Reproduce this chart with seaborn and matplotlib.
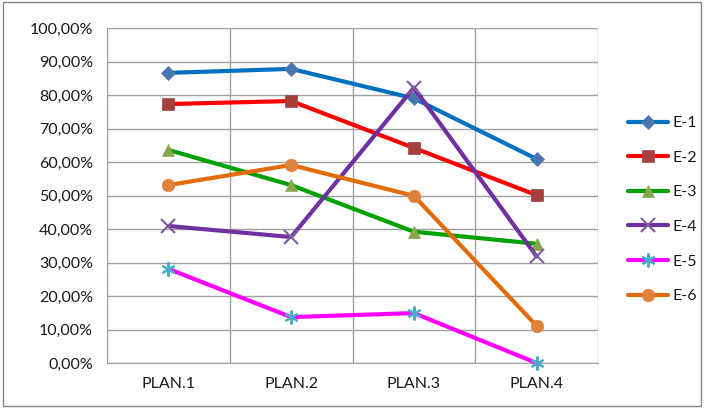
import numpy as np
import pandas as pd
import matplotlib
matplotlib.use("Agg")
import matplotlib.pyplot as plt
from matplotlib.patches import Rectangle
from matplotlib.ticker import FuncFormatter
import seaborn as sb

plans = ["PLAN.1", "PLAN.2", "PLAN.3", "PLAN.4"]
series_names = ["E-1", "E-2", "E-3", "E-4", "E-5", "E-6"]
e1 = [86.6, 87.8, 79.0, 60.9]
e2 = [77.3, 78.2, 64.2, 50.1]
e3 = [63.6, 53.1, 39.2, 35.6]
e4 = [40.9, 37.6, 82.2, 31.8]
e5 = [28.1, 13.7, 14.9, 0.0]
e6 = [53.1, 59.1, 49.9, 11.1]
all_vals = [e1, e2, e3, e4, e5, e6]

line_colors = ["#0070C0", "#FF0000", "#00A000", "#7030A0", "#FF00FF", "#E36C0A"]
marker_colors = ["#4A76B0", "#A5403F", "#87A64B", "#7C5B9E", "#4BACC6", "#E0823B"]
markers = ["D", "s", "^", "x", (6, 2, 0), "o"]
msizes = [7, 9, 9, 10, 10, 9]

sb.set_style("white")
plt.rcParams["font.family"] = ["Lato", "DejaVu Sans"]

fig = plt.figure(figsize=(7.04, 4.08), dpi=100)
ax = fig.add_axes([107 / 704, 1 - 363 / 408, 491 / 704, 335 / 408])

for i, name in enumerate(series_names):
    df = pd.DataFrame({"plan": np.arange(len(plans)), "val": all_vals[i]})
    thin = markers[i] == "x" or isinstance(markers[i], tuple)
    sb.lineplot(data=df, x="plan", y="val", ax=ax, color=line_colors[i], linewidth=3,
                marker=markers[i], markersize=msizes[i], markerfacecolor=marker_colors[i],
                markeredgecolor=marker_colors[i], markeredgewidth=1.5 if thin else 0.5,
                label=name, zorder=3, clip_on=False)

ax.set_xlim(-0.5, 3.5)
ax.set_ylim(0, 100)
ax.set_yticks(np.arange(0, 101, 10))
ax.yaxis.set_major_formatter(FuncFormatter(lambda v, p: f"{v:.2f}%".replace(".", ",")))
ax.set_xticks(np.arange(-0.5, 3.6, 1), minor=False)
ax.set_xticklabels([])
ax.set_xticks(np.arange(4), minor=True)
ax.set_xticklabels(plans, minor=True)
ax.tick_params(axis="x", which="minor", length=0, labelsize=11.5, pad=10, labelcolor="#1a1a1a")
ax.tick_params(axis="x", which="major", length=5, color="#A0A0A0")
ax.tick_params(axis="y", length=6, color="#A0A0A0", labelsize=11.5, pad=4, labelcolor="#1a1a1a")
ax.grid(True, which="major", color="#A0A0A0", linewidth=1)
ax.set_xlabel("")
ax.set_ylabel("")
for s in ["top", "right"]:
    ax.spines[s].set_visible(False)
for s in ["left", "bottom"]:
    ax.spines[s].set_color("#A0A0A0")

ax.legend(loc="center left", bbox_to_anchor=((628 - 107) / 491, 0.458), frameon=False, fontsize=11.5,
          handlelength=2.5, labelspacing=1.28, handletextpad=0.3, labelcolor="#1a1a1a",
          borderaxespad=0, borderpad=0)

fig.patches.append(Rectangle((0.004, 0.006), 0.992, 0.988, transform=fig.transFigure,
                             fill=False, edgecolor="#888888", linewidth=1))

plt.savefig("out.png", dpi=100)
